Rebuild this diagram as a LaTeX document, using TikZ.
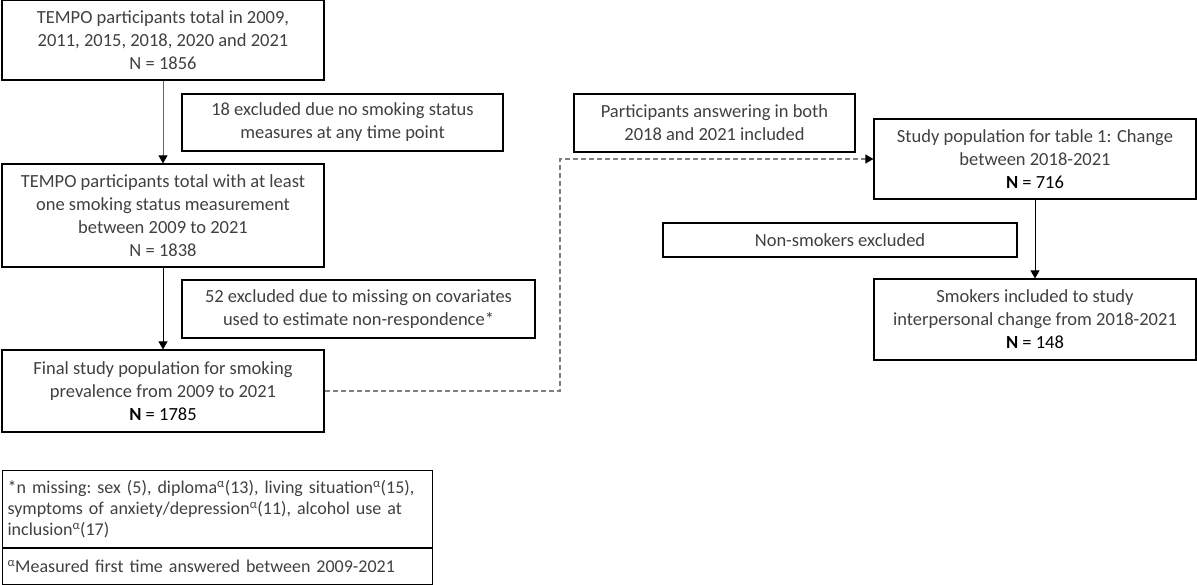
\documentclass[tikz,border=0pt]{standalone}
\usepackage{fontspec}
\setmainfont{Carlito}
\usepackage{tikz}
\usetikzlibrary{calc}
\usetikzlibrary{positioning}
\usetikzlibrary{arrows.meta}
\tikzset {
    box/.style = {draw=black, line width=1.2pt, rectangle, align=center, text=black!75, inner sep=0pt},
    note/.style = {box, align=left, text width=420pt, inner xsep=5pt, anchor=north west, font=\fontsize{18}{21}\selectfont\frenchspacing},
    flow/.style = {-{Triangle[length=8pt,width=9pt,black]}, line width=0.8pt},
    dashline/.style = {-{Triangle[length=8pt,width=9pt,black]}, draw=black!50, line width=1.2pt, dash pattern=on 5pt off 3pt}
    %wide/.style={minimum width=322pt}
}

\begin{document}
\begin{tikzpicture}[x=1pt, y=-1pt, font=\fontsize{18.5}{23}\selectfont]
	\useasboundingbox (0,0) rectangle (1197,584);
	% left column
	\node (a) [box, minimum width=322pt, minimum height=80pt] at (163,40) {TEMPO participants total in 2009,\\2011, 2015, 2018, 2020 and 2021\\N = 1856};
	\node (b) [box, minimum width=321pt, minimum height=57pt] at (342.5,122.5) {18 excluded due no smoking status\\measures at any time point};
	\node (c) [box, minimum width=322pt, minimum height=103pt] at (163,215.5) {TEMPO participants total with at least\\one smoking status measurement\\between 2009 to 2021\\N = 1838};
	\node (d) [box, minimum width=353pt, minimum height=58pt] at (358.5,309) {52 excluded due to missing on covariates\\used to estimate non-respondence*};
	\node (e) [box, minimum width=322pt, minimum height=82pt] at (163,391) {Final study population for smoking\\prevalence from 2009 to 2021\\{\color{black}\textbf{N} = 1785}};
	% right column
	\node (f) [box, minimum width=281pt, minimum height=58pt] at (714.5,123) {Participants answering in both\\2018 and 2021 included};
	\node (g) [box, minimum width=322pt, minimum height=80pt] at (1035,159) {Study population for table 1: Change\\between 2018-2021\\{\color{black}\textbf{N} = 716}};
	\node (h) [box, minimum width=354pt, minimum height=34pt] at (840,240) {Non-smokers excluded};
	\node (i) [box, minimum width=322pt, minimum height=81pt] at (1035,319.5) {Smokers included to study\\interpersonal change from 2018-2021\\{\color{black}\textbf{N} = 148}};
	% footnotes
	\node (m) [note, minimum height=77pt] at (2,470) {*n missing: sex (5), diploma\textsuperscript{α}(13), living situation\textsuperscript{α}(15),\\symptoms of anxiety/depression\textsuperscript{α}(11), alcohol use at\\inclusion\textsuperscript{α}(17)};
	\node (n) [note, minimum height=36pt] at (m.south west) {\textsuperscript{α}Measured first time answered between 2009-2021};
	% connectors
	\draw[flow, draw=black!60] (a) -- (c);
	\draw[flow] (c) -- (e);
	\draw[flow] (g) -- (i);
	\coordinate (k) at (560,391);
	\draw[dashline] (e.east) -- (k) |- (g.west);
\end{tikzpicture}
\end{document}
